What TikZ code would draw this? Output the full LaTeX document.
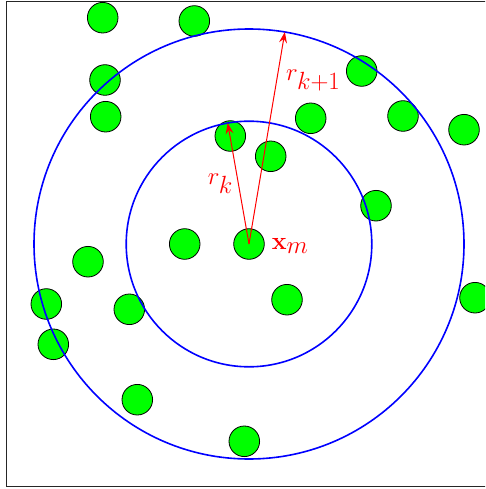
\documentclass[tikz,border=0pt]{standalone}
\usepackage{amsmath, amssymb}
\usepackage{tikz}
\usetikzlibrary{arrows.meta, calc, positioning}
\tikzset{
    dot/.style={circle, draw=black, fill=green, line width=0.8pt, minimum size=30.6pt, inner sep=0pt},
    ring/.style={blue, line width=1.6pt},
    radius arrow/.style={-{Stealth[length=11pt, width=8pt, inset=4pt]}, red, line width=1pt},
    lbl/.style={red, font=\fontsize{33}{38}\selectfont, inner sep=1pt}
}

\begin{document}
\begin{tikzpicture}[x=1pt, y=-1pt]
    \useasboundingbox (0,0) rectangle (485,489);
    \clip (0,0) rectangle (485,489);
    % Rahmen
    \draw[black!85, line width=0.9pt] (6.5,1.5) rectangle (495,486.5);

    % Punkte
    \foreach \px/\py/\n in {102.7/17.7/1, 194.3/21/2, 105/80/3, 105.7/116.7/4,
        230.3/136/5, 270.7/156.3/6, 310.7/118.3/7, 361.7/71/8, 403/116/9,
        464/129.7/10, 376/205.7/11, 184.7/244/12, 88/261.7/13, 46.3/304/14,
        129.3/309.3/15, 287/299.7/16, 475/297.7/17, 53.3/344.3/18,
        137.3/399.7/19, 244.3/441.3/20}
        \node[dot] (p\n) at (\px,\py) {};
    \node[dot] (xm) at (249,244) {};

    % Kreise um x_m
    \draw[ring] (xm.center) circle[radius=122.8pt];
    \draw[ring] (xm.center) circle[radius=215pt];

    % Radien (y zeigt nach unten, daher negative Winkel)
    \coordinate (rk) at ($(xm.center)+(-100:122.8)$);
    \coordinate (rk1) at ($(xm.center)+(-80.4:215)$);
    \draw[radius arrow] (xm.center) -- (rk) node[lbl, pos=0.5, left=4pt]{$r_k$};
    \draw[radius arrow] (xm.center) -- (rk1) node[lbl, pos=0.77, right=8pt]{$r_{k+1}$};
    \node[lbl, right=6pt of xm, yshift=-2pt] (xmlbl) {$\mathbf{x}_m$};
\end{tikzpicture}
\end{document}
